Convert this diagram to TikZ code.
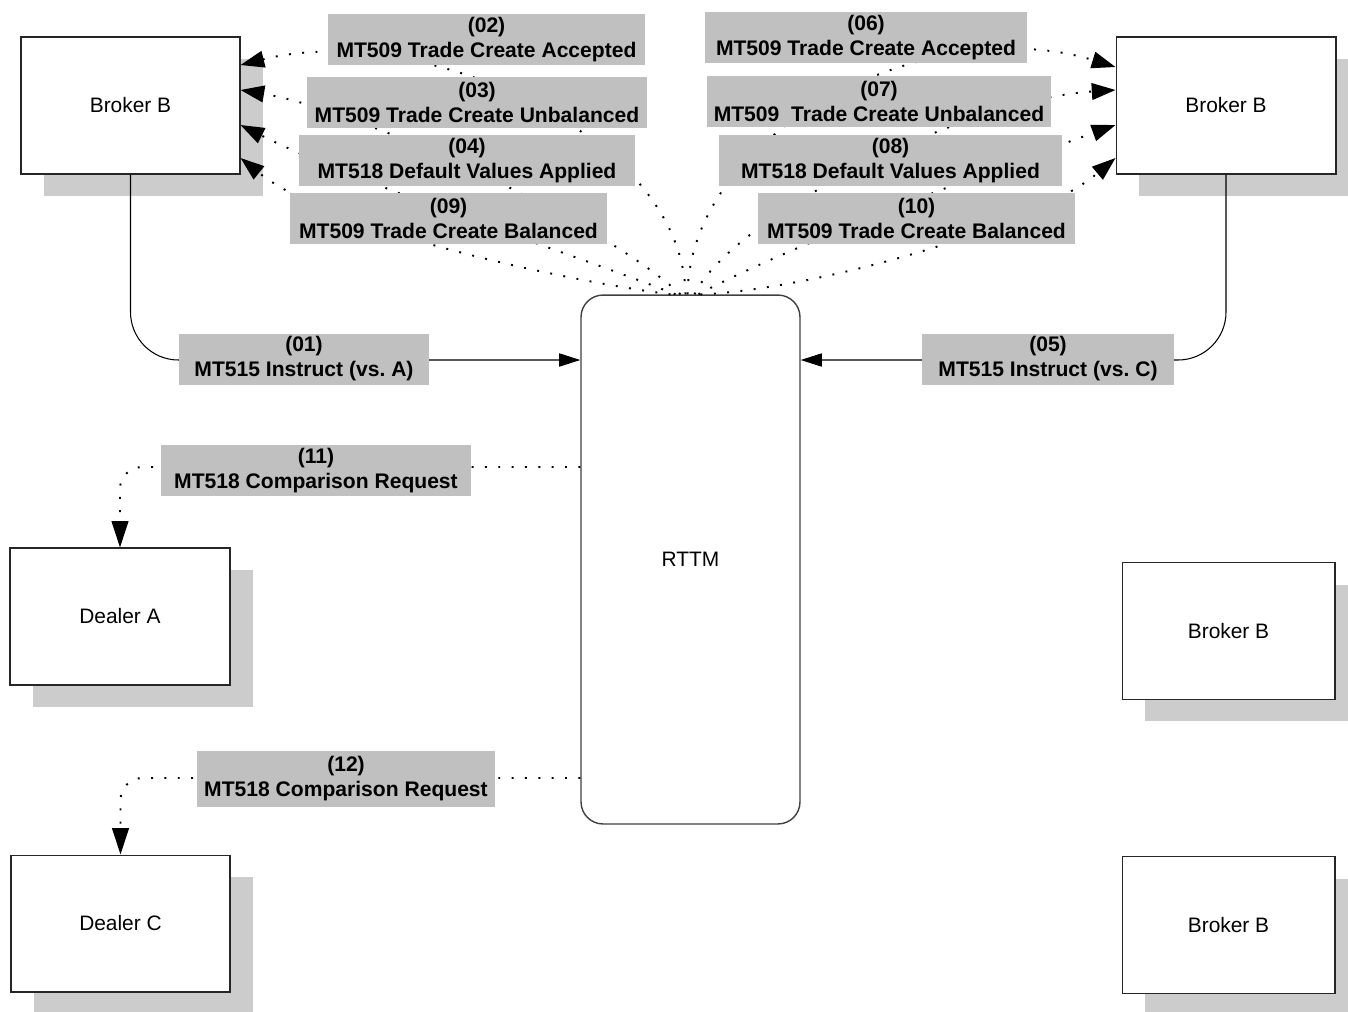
\documentclass[tikz,border=0pt]{standalone}
\usepackage{fontspec}
\setmainfont{Liberation Sans}
\usetikzlibrary{arrows.meta,shadows,calc}

\definecolor{lblgray}{RGB}{192,192,192}
\definecolor{shdgray}{RGB}{204,204,204}

\tikzset{
	party/.style={draw=black!85, fill=white, line width=0.6pt, minimum width=#1, minimum height=2.74cm,
		font=\fontsize{11.9}{14}\selectfont,
		drop shadow={shadow xshift=0.46cm, shadow yshift=-0.44cm, fill=shdgray, opacity=1}},
	msglbl/.style={fill=lblgray, align=center, inner sep=0pt, minimum width=#1, minimum height=1.02cm,
		font=\bfseries\fontsize{12}{14.2}\selectfont},
	msg/.style={line width=1.1pt, dash pattern=on 1.1pt off 6.5pt, -{Triangle[length=13.5pt,width=9.5pt]}},
	flow/.style={line width=0.6pt, rounded corners=0.96cm, -{Triangle[length=12pt,width=7.5pt]}},
	req/.style={line width=1.1pt, dash pattern=on 1.1pt off 6.5pt, rounded corners=0.44cm, -{Triangle[length=15pt,width=9.5pt]}}
}

\begin{document}
\begin{tikzpicture}[x=0.02cm, y=-0.02cm]
	\useasboundingbox (0,0) rectangle (1348,1011);

	% parties
	\node[party=4.38cm] (brokerTL) at (130.5,105.5) {Broker B};
	\node[party=4.40cm] (brokerTR) at (1226,105.5) {Broker B};
	\node[party=4.40cm] (dealerA) at (120,616.5) {Dealer A};
	\node[party=4.38cm] (dealerC) at (120.5,923.5) {Dealer C};
	\node[party=4.26cm] (brokerM) at (1228.5,631) {Broker B};
	\node[party=4.26cm] (brokerBt) at (1228.5,925) {Broker B};
	\node[draw=black!75, fill=white, line width=0.8pt, rounded corners=0.44cm, minimum width=4.38cm,
		minimum height=10.58cm, font=\fontsize{11.9}{14}\selectfont] (RTTM) at (690.5,559.5) {RTTM};

	% instructions
	\draw[flow] (brokerTL.south) |- (RTTM.west |- 0,360);
	\draw[flow] (brokerTR.south) |- (RTTM.east |- 0,360);

	% replies to broker (left)
	\draw[msg] ($(RTTM.north)+(-5,0)$) .. controls (683,135) and (420,20) .. ($(brokerTL.east)+(0,-40.5)$);
	\draw[msg] ($(RTTM.north)+(-10,0)$) .. controls (600,220) and (360,110) .. ($(brokerTL.east)+(0,-15.5)$);
	\draw[msg] ($(RTTM.north)+(-15,0)$) .. controls (590,260) and (360,185) .. ($(brokerTL.east)+(0,19.5)$);
	\draw[msg] ($(RTTM.north)+(-20,0)$) .. controls (560,280) and (330,230) .. ($(brokerTL.east)+(0,52.5)$);

	% replies to broker (right)
	\draw[msg] ($(RTTM.north)+(-3,0)$) .. controls (690,130) and (930,10) .. ($(brokerTR.west)+(0,-38.5)$);
	\draw[msg] ($(RTTM.north)+(4,0)$) .. controls (730,220) and (960,100) .. ($(brokerTR.west)+(0,-15.5)$);
	\draw[msg] ($(RTTM.north)+(8,0)$) .. controls (780,250) and (990,170) .. ($(brokerTR.west)+(0,19.5)$);
	\draw[msg] ($(RTTM.north)+(10,0)$) .. controls (810,290) and (1030,230) .. ($(brokerTR.west)+(0,52.5)$);

	% comparison requests
	\draw[req] (RTTM.west |- 0,467) -| (dealerA.north);
	\draw[req] (RTTM.west |- 0,778) -| (dealerC.north);

	% labels
	\node[msglbl=6.34cm] (l02) at (486.5,39.5) {(02)\\MT509 Trade Create Accepted};
	\node[msglbl=6.80cm] (l03) at (477,102.5) {(03)\\MT509 Trade Create Unbalanced};
	\node[msglbl=6.72cm] (l04) at (467,160.5) {(04)\\MT518 Default Values Applied};
	\node[msglbl=6.34cm] (l09) at (448.5,218.5) {(09)\\MT509 Trade Create Balanced};
	\node[msglbl=6.44cm] (l06) at (866,37.5) {(06)\\MT509 Trade Create Accepted};
	\node[msglbl=6.88cm] (l07) at (879,101.5) {(07)\\MT509\ \ Trade Create Unbalanced};
	\node[msglbl=6.86cm] (l08) at (890.5,160.5) {(08)\\MT518 Default Values Applied};
	\node[msglbl=6.34cm] (l10) at (916.5,218.5) {(10)\\MT509 Trade Create Balanced};
	\node[msglbl=5.00cm] (l01) at (304,359) {(01)\\MT515 Instruct (vs.\ A)};
	\node[msglbl=5.04cm] (l05) at (1048,359) {(05)\\MT515 Instruct (vs.\ C)};
	\node[msglbl=6.20cm] (l11) at (316,470.5) {(11)\\MT518 Comparison Request};
	\node[msglbl=5.96cm, minimum height=1.12cm] (l12) at (346,779) {(12)\\MT518 Comparison Request};
\end{tikzpicture}
\end{document}
